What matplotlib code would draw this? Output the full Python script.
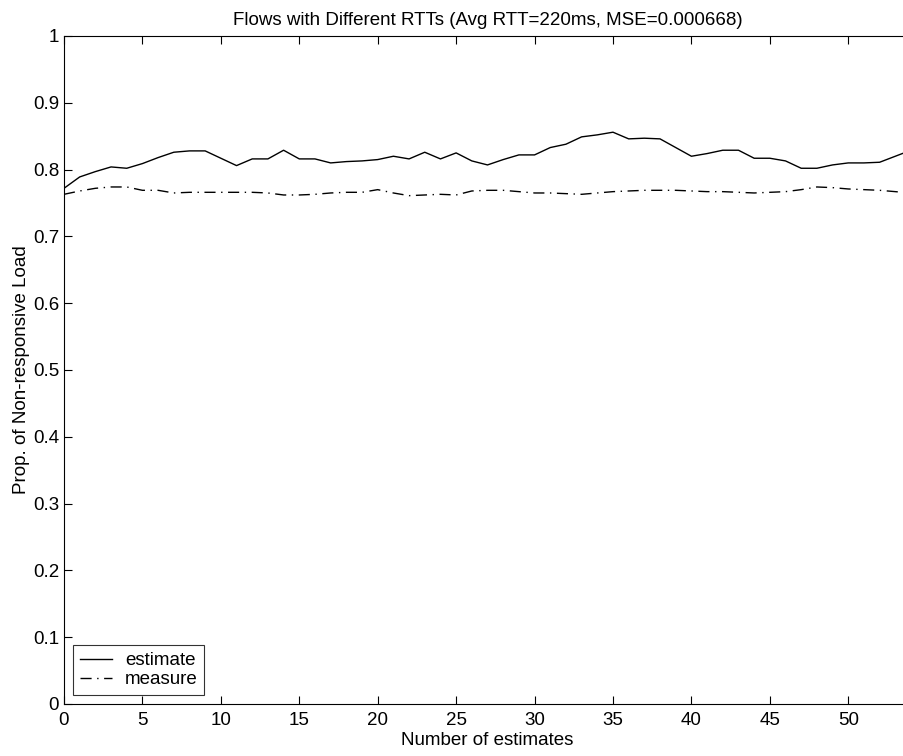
import matplotlib.pyplot as plt

plt.rcParams['font.family'] = ['Liberation Sans', 'DejaVu Sans']

# Data
x = list(range(55))
estimate = [0.772, 0.789, 0.797, 0.804, 0.802, 0.809, 0.818, 0.826, 0.828, 0.828,
            0.817, 0.806, 0.816, 0.816, 0.829, 0.816, 0.816, 0.810, 0.812, 0.813,
            0.815, 0.820, 0.816, 0.826, 0.816, 0.825, 0.813, 0.807, 0.815, 0.822,
            0.822, 0.833, 0.838, 0.849, 0.852, 0.856, 0.846, 0.847, 0.846, 0.833,
            0.820, 0.824, 0.829, 0.829, 0.817, 0.817, 0.813, 0.802, 0.802, 0.807,
            0.810, 0.810, 0.811, 0.820, 0.829]
measure = [0.763, 0.768, 0.772, 0.774, 0.774, 0.769, 0.769, 0.765, 0.766, 0.766,
           0.766, 0.766, 0.766, 0.765, 0.762, 0.762, 0.763, 0.765, 0.766, 0.766,
           0.770, 0.765, 0.761, 0.762, 0.763, 0.762, 0.768, 0.769, 0.769, 0.767,
           0.765, 0.765, 0.764, 0.763, 0.765, 0.767, 0.768, 0.769, 0.769, 0.769,
           0.768, 0.767, 0.767, 0.766, 0.765, 0.766, 0.767, 0.770, 0.774, 0.773,
           0.771, 0.770, 0.769, 0.767, 0.765]

fs = 13.5

fig = plt.figure(figsize=(9.04, 7.56), dpi=100)
# axes box runs a little past the right edge, as in the cropped original
ax = fig.add_axes([64 / 904, 52 / 756, 847 / 904, 668 / 756])

ax.plot(x, estimate, color='black', linewidth=1.0, label='estimate')
ax.plot(x, measure, color='black', linewidth=1.0, linestyle=(0, (8, 4, 1, 4)),
        label='measure')

ax.set_xlim(0, 54)
ax.set_ylim(0, 1)
ax.set_xticks(range(0, 55, 5))
ax.set_yticks([i / 10 for i in range(11)])
ax.set_yticklabels(['0', '0.1', '0.2', '0.3', '0.4', '0.5', '0.6', '0.7', '0.8', '0.9', '1'])
ax.tick_params(direction='in', top=True, right=True, labelsize=fs, length=6, width=0.8)
ax.tick_params(axis='x', pad=6)

ax.set_xlabel('Number of estimates', fontsize=fs, labelpad=2)
ax.set_ylabel('Prop. of Non-responsive Load', fontsize=fs, labelpad=2)
ax.set_title('Flows with Different RTTs (Avg RTT=220ms, MSE=0.000668)', fontsize=fs, pad=8)

leg = ax.legend(loc='lower left', fontsize=fs, frameon=True, fancybox=False,
                edgecolor='black', borderaxespad=0.5, handlelength=1.7,
                handletextpad=0.7, labelspacing=0.1, borderpad=0.35)
leg.get_frame().set_linewidth(0.8)

fig.savefig('out.png', dpi=100)
